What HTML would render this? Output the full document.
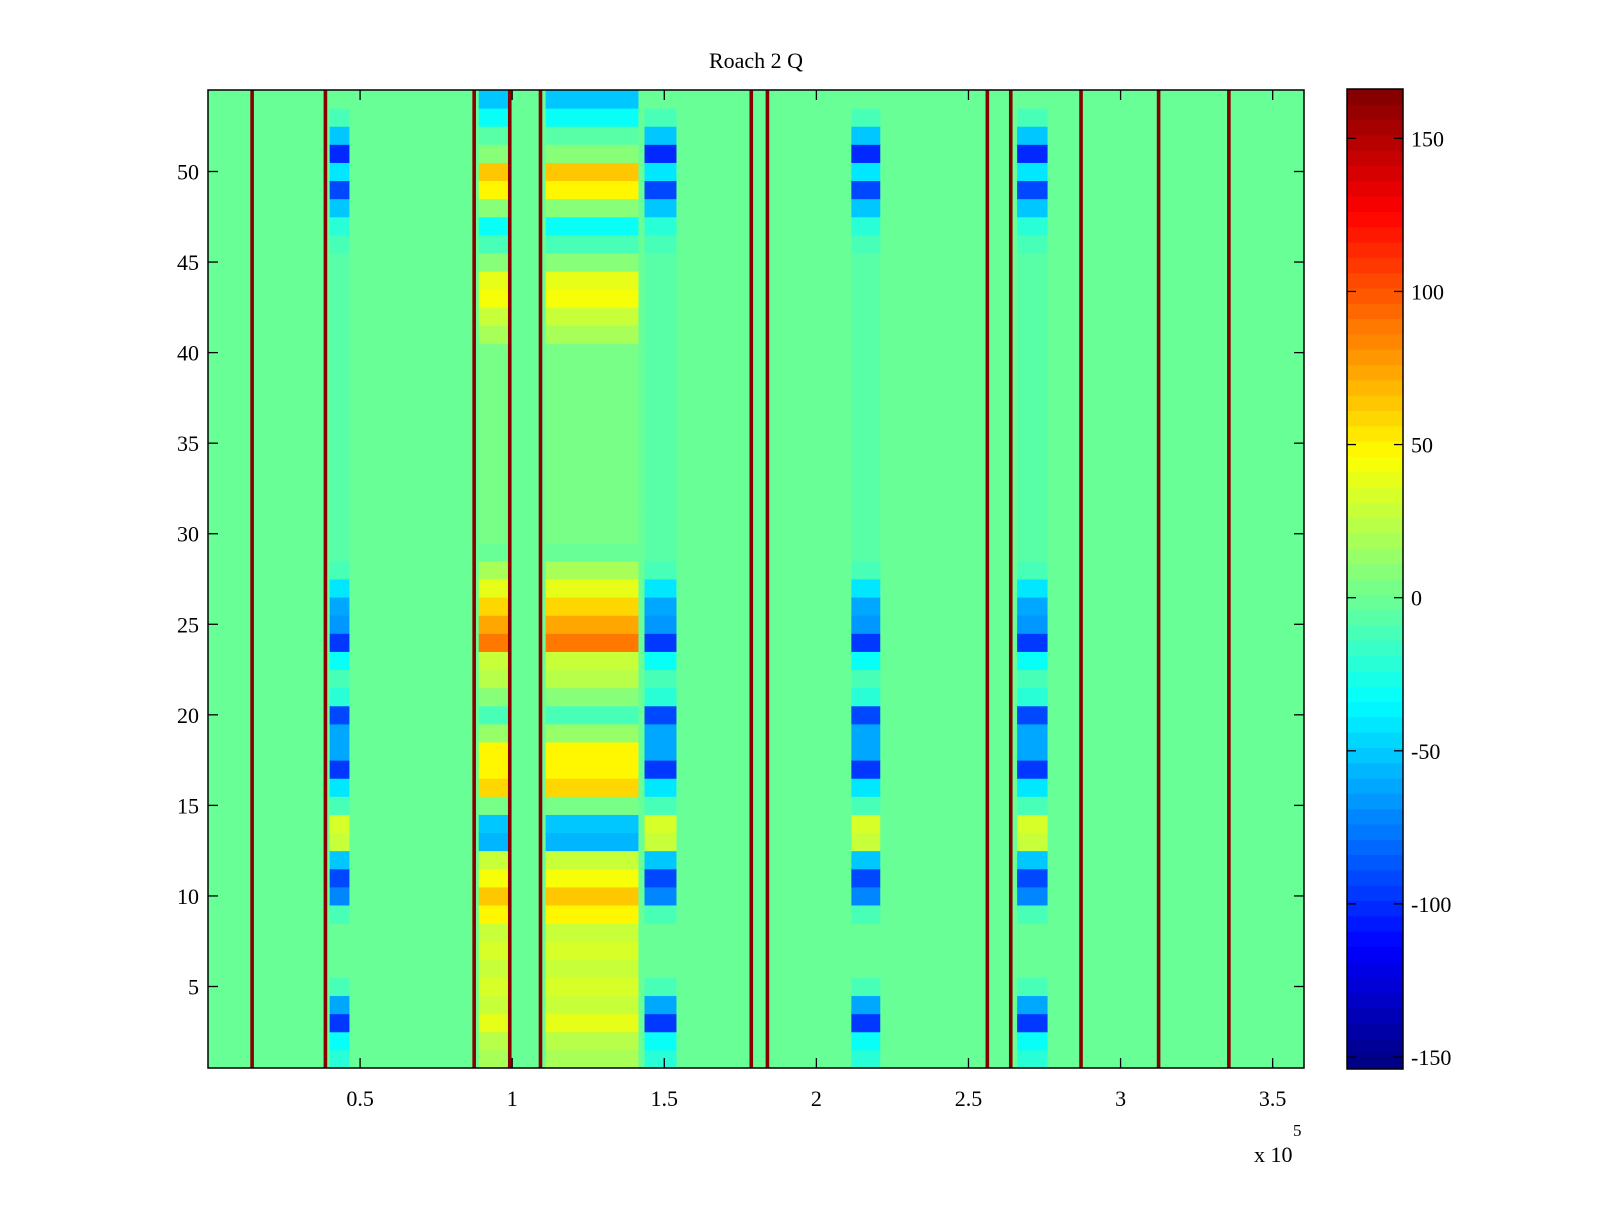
<!DOCTYPE html>
<html><head><meta charset="utf-8"><style>
body{margin:0;background:#fff;}
svg text{font-family:"Liberation Serif",serif;fill:#000;}
</style></head><body>
<svg id="chart" width="1600" height="1200" xmlns="http://www.w3.org/2000/svg">
<rect width="1600" height="1200" fill="#fff"/>
<text x="756" y="68" font-size="22" text-anchor="middle">Roach 2 Q</text>
<g id="plot"></g>
<g id="cbar"></g>
<g id="axes"></g>
</svg>
<script>
// ---- data ----
const xTicks=[50000,100000,150000,200000,250000,300000,350000];
const xTickLabels=["0.5","1","1.5","2","2.5","3","3.5"];
const yTicks=[5,10,15,20,25,30,35,40,45,50];
const cbTicks=[-150,-100,-50,0,50,100,150];
const lineCols=[14500,38600,87500,99200,109300,178600,183900,256200,263900,287000,312500,335600];
const blueBlocks=[[40000,46500],[143500,154000],[211500,221000],[266000,276000]];
const warmBlocks=[[89000,98800],[111000,141500]];
const blueVals=[-20,-30,-95,-60,-10,0,0,0,-10,-70,-90,-50,30,35,-10,-40,-95,-60,-60,-90,-20,-10,-30,-95,-65,-60,-40,-10,-8,-5,-5,-5,-5,-5,-5,-5,-5,-5,-5,-5,-5,-5,-5,-5,-8,-10,-20,-50,-90,-40,-100,-50,-10,0];
const warmVals=[20,25,40,30,35,30,35,30,50,65,45,30,-55,-50,5,60,50,50,15,-10,10,25,30,90,75,60,40,20,0,5,5,5,5,5,5,5,5,5,5,5,20,30,45,40,10,-10,-30,10,50,65,10,-5,-30,-50];
const baseVal=-3;
const lineVal=166;
// ---- scales ----
const X0=208,X1=1304,Y0=90,Y1=1068;
const xMin=0,xMax=360300,rMin=0.5,rMax=54.5;
const vMin=-153.9,vMax=166.1;
const sx=v=>X0+(v-xMin)/(xMax-xMin)*(X1-X0);
const sy=r=>Y1-(r-rMin)/(rMax-rMin)*(Y1-Y0);
const CB0=1347,CB1=1403,CBT=89,CBB=1069;
const sc=v=>CBB-(v-vMin)/(vMax-vMin)*(CBB-CBT);
function jet(v){
  let t=(v-vMin)/(vMax-vMin);t=Math.max(0,Math.min(1,t));
  t=(Math.floor(t*63.999)+0.5)/64;
  const c=x=>Math.round(255*Math.max(0,Math.min(1,1.5-Math.abs(4*t-x))));
  return `rgb(${c(3)},${c(2)},${c(1)})`;
}
const NS="http://www.w3.org/2000/svg";
function mk(tag,attrs,parent){const e=document.createElementNS(NS,tag);for(const k in attrs)e.setAttribute(k,attrs[k]);parent.appendChild(e);return e;}
const plot=document.getElementById('plot');
let bg=mk('rect',{x:X0,y:Y0,width:X1-X0,height:Y1-Y0,fill:jet(baseVal)},plot);


for(let i=0;i<blueVals.length;i++){
  const r=i+1;
  for(const b of blueBlocks){
    const e=mk('rect',{x:sx(b[0]),y:sy(r+0.5),width:sx(b[1])-sx(b[0]),height:sy(r-0.5)-sy(r+0.5)+0.5,fill:jet(blueVals[i])},plot);
    
    
  }
  for(const b of warmBlocks){
    const e=mk('rect',{x:sx(b[0]),y:sy(r+0.5),width:sx(b[1])-sx(b[0]),height:sy(r-0.5)-sy(r+0.5)+0.5,fill:jet(warmVals[i])},plot);
    
    
  }
}
for(const c of lineCols){
  const e=mk('rect',{x:sx(c)-1.8,y:Y0,width:3.6,height:Y1-Y0,fill:jet(lineVal)},plot);
  
  
}
// axes
const ax=document.getElementById('axes');
let fr=mk('rect',{x:X0,y:Y0,width:X1-X0,height:Y1-Y0,fill:'none',stroke:'#000','stroke-width':1.5},ax);


xTicks.forEach((t,i)=>{
  const x=sx(t);
  mk('line',{x1:x,y1:Y1,x2:x,y2:Y1-10,stroke:'#000','stroke-width':1.3},ax);
  mk('line',{x1:x,y1:Y0,x2:x,y2:Y0+10,stroke:'#000','stroke-width':1.3},ax);
  const tx=mk('text',{x:x,y:1106,'font-size':22,'text-anchor':'middle'},ax);
  tx.textContent=xTickLabels[i];
  
  
});
yTicks.forEach(t=>{
  const y=sy(t);
  mk('line',{x1:X0,y1:y,x2:X0+10,y2:y,stroke:'#000','stroke-width':1.3},ax);
  mk('line',{x1:X1,y1:y,x2:X1-10,y2:y,stroke:'#000','stroke-width':1.3},ax);
  const tx=mk('text',{x:199,y:y+8,'font-size':22,'text-anchor':'end'},ax);
  tx.textContent=String(t);
  
  
});
let ex=mk('text',{x:1254,y:1162,'font-size':22},ax);
ex.textContent='x 10';


let ex5=mk('text',{x:1293,y:1136,'font-size':17},ax);
ex5.textContent='5';


// colorbar
const cb=document.getElementById('cbar');
for(let k=0;k<64;k++){
  const v0=vMin+(vMax-vMin)*k/64,v1=vMin+(vMax-vMin)*(k+1)/64;
  const e=mk('rect',{x:CB0,y:sc(v1),width:CB1-CB0,height:sc(v0)-sc(v1)+0.5,fill:jet((v0+v1)/2)},cb);
  
  
}
mk('rect',{x:CB0,y:CBT,width:CB1-CB0,height:CBB-CBT,fill:'none',stroke:'#000','stroke-width':1.5},cb);
cbTicks.forEach(t=>{
  const y=sc(t);
  mk('line',{x1:CB0,y1:y,x2:CB0+9,y2:y,stroke:'#000','stroke-width':1.3},cb);
  mk('line',{x1:CB1,y1:y,x2:CB1-9,y2:y,stroke:'#000','stroke-width':1.3},cb);
  const tx=mk('text',{x:1411,y:y+8,'font-size':22},cb);
  tx.textContent=String(t);
  
  
});
</script>
</body></html>
